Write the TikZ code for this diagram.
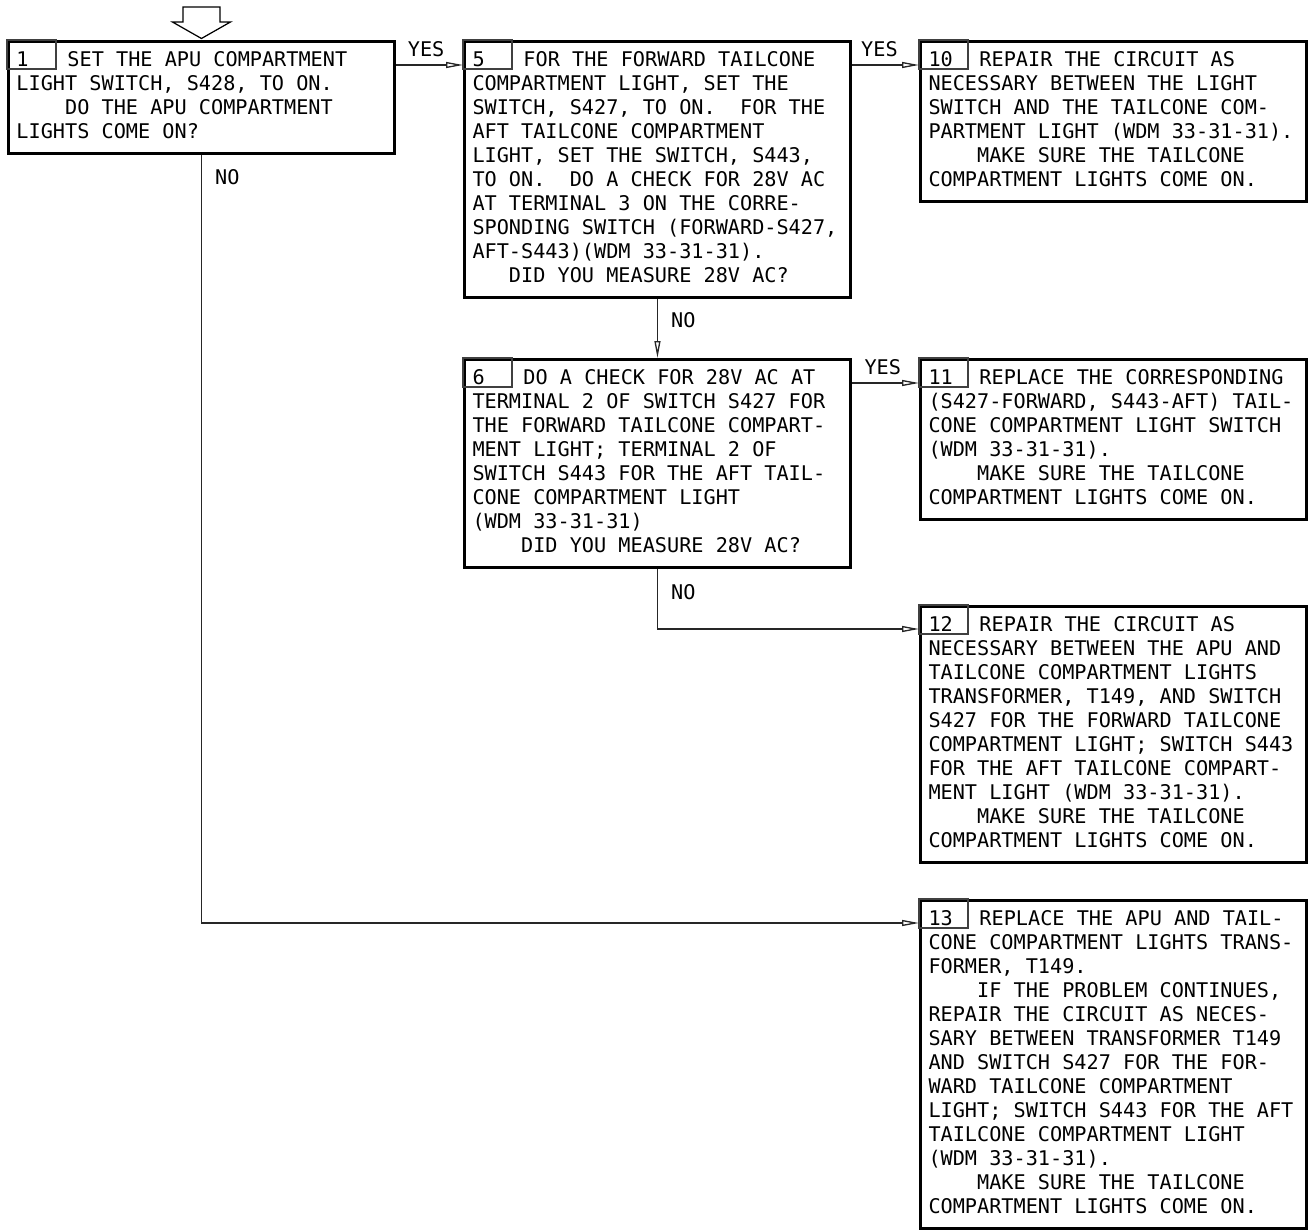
\documentclass[tikz,border=0pt]{standalone}
\usepackage{fontspec}
\setmonofont{DejaVu Sans Mono}
\usepackage{tikz}
\usetikzlibrary{arrows.meta, calc}
\frenchspacing
\newcommand{\firstline}[2]{\makebox[7.4cm][l]{\strut\makebox[1.02cm][l]{#1}#2}}
\newcommand{\indfour}{\hphantom{MMMM}}
\newcommand{\indthree}{\hphantom{MMM}}

\begin{document}
\begin{tikzpicture}[x=0.02cm, y=-0.02cm,
    >={Triangle[open, length=0.34cm, width=0.12cm]},
    font=\ttfamily\fontsize{11.5pt}{13.66pt}\selectfont,
    stepbox/.style={draw, line width=1.7pt, anchor=north west,
      inner xsep=0.16cm, inner ysep=0.164cm, align=left},
    numline/.style={line width=0.6pt, draw=black!75},
    flow/.style={->, line width=0.75pt, draw=black!85},
    lbl/.style={inner sep=0pt}]
  \useasboundingbox (0,0) rectangle (1310,1229);

  % Steps
  \node[stepbox] (b1) at (7,40) {\firstline{1}{SET THE APU COMPARTMENT}\\
    LIGHT SWITCH, S428, TO ON.\\
    \indfour DO THE APU COMPARTMENT\\
    LIGHTS COME ON?\strut};
  \node[stepbox] (b5) at (463,40) {\firstline{5}{FOR THE FORWARD TAILCONE}\\
    COMPARTMENT LIGHT, SET THE\\
    SWITCH, S427, TO ON.\ \ FOR THE\\
    AFT TAILCONE COMPARTMENT\\
    LIGHT, SET THE SWITCH, S443,\\
    TO ON.\ \ DO A CHECK FOR 28V AC\\
    AT TERMINAL 3 ON THE CORRE-\\
    SPONDING SWITCH (FORWARD-S427,\\
    AFT-S443)(WDM 33-31-31).\\
    \indthree DID YOU MEASURE 28V AC?\strut};
  \node[stepbox] (b10) at (919,40) {\firstline{10}{REPAIR THE CIRCUIT AS}\\
    NECESSARY BETWEEN THE LIGHT\\
    SWITCH AND THE TAILCONE COM-\\
    PARTMENT LIGHT (WDM 33-31-31).\\
    \indfour MAKE SURE THE TAILCONE\\
    COMPARTMENT LIGHTS COME ON.\strut};
  \node[stepbox] (b6) at (463,358) {\firstline{6}{DO A CHECK FOR 28V AC AT}\\
    TERMINAL 2 OF SWITCH S427 FOR\\
    THE FORWARD TAILCONE COMPART-\\
    MENT LIGHT; TERMINAL 2 OF\\
    SWITCH S443 FOR THE AFT TAIL-\\
    CONE COMPARTMENT LIGHT\\
    (WDM 33-31-31)\\
    \indfour DID YOU MEASURE 28V AC?\strut};
  \node[stepbox] (b11) at (919,358) {\firstline{11}{REPLACE THE CORRESPONDING}\\
    (S427-FORWARD, S443-AFT) TAIL-\\
    CONE COMPARTMENT LIGHT SWITCH\\
    (WDM 33-31-31).\\
    \indfour MAKE SURE THE TAILCONE\\
    COMPARTMENT LIGHTS COME ON.\strut};
  \node[stepbox] (b12) at (919,605) {\firstline{12}{REPAIR THE CIRCUIT AS}\\
    NECESSARY BETWEEN THE APU AND\\
    TAILCONE COMPARTMENT LIGHTS\\
    TRANSFORMER, T149, AND SWITCH\\
    S427 FOR THE FORWARD TAILCONE\\
    COMPARTMENT LIGHT; SWITCH S443\\
    FOR THE AFT TAILCONE COMPART-\\
    MENT LIGHT (WDM 33-31-31).\\
    \indfour MAKE SURE THE TAILCONE\\
    COMPARTMENT LIGHTS COME ON.\strut};
  \node[stepbox] (b13) at (919,899) {\firstline{13}{REPLACE THE APU AND TAIL-}\\
    CONE COMPARTMENT LIGHTS TRANS-\\
    FORMER, T149.\\
    \indfour IF THE PROBLEM CONTINUES,\\
    REPAIR THE CIRCUIT AS NECES-\\
    SARY BETWEEN TRANSFORMER T149\\
    AND SWITCH S427 FOR THE FOR-\\
    WARD TAILCONE COMPARTMENT\\
    LIGHT; SWITCH S443 FOR THE AFT\\
    TAILCONE COMPARTMENT LIGHT\\
    (WDM 33-31-31).\\
    \indfour MAKE SURE THE TAILCONE\\
    COMPARTMENT LIGHTS COME ON.\strut};

  % Step number cells
  \foreach \b in {b1,b5,b10,b6,b11,b12,b13}
    \draw[numline] (\b.north west) rectangle ++(49,29);

  % Entry arrow
  \draw[line width=0.7pt] ($(b1.north)+(-18.5,-33)$) -- ++(37,0) -- ++(0,15) -- ++(10.5,0)
    -- ($(b1.north)+(0,-1.5)$) -- ($(b1.north)+(-29,-18)$) -- ++(10.5,0) -- cycle;

  % YES branches
  \draw[flow] ($(b1.north east)+(0,25)$) -- ($(b5.north west)+(0,25)$)
    node[lbl, pos=0.45, above=0.16cm] {YES};
  \draw[flow] ($(b5.north east)+(0,25)$) -- ($(b10.north west)+(0,25)$)
    node[lbl, pos=0.41, above=0.16cm] {YES};
  \draw[flow] ($(b6.north east)+(0,25)$) -- ($(b11.north west)+(0,25)$)
    node[lbl, pos=0.46, above=0.16cm] {YES};

  % NO branches
  \draw[flow] (b5.south) -- (b6.north) node[lbl, pos=0.36, right=0.26cm] {NO};
  \draw[flow] (b6.south) |- ($(b12.north west)+(0,24)$) node[lbl, pos=0.19, right=0.26cm] {NO};
  \draw[flow] (b1.south) |- ($(b13.north west)+(0,24)$) node[lbl, pos=0.014, right=0.26cm] {NO};
\end{tikzpicture}
\end{document}
